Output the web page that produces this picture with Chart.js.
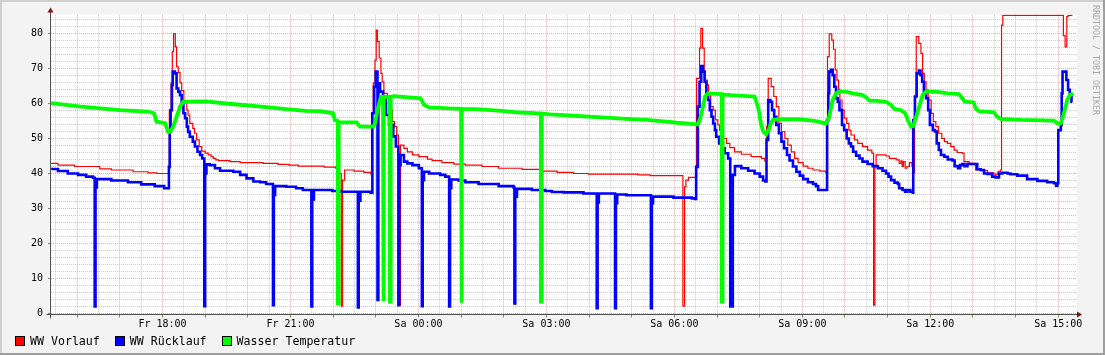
<!DOCTYPE html>
<html>
<head>
<meta charset="utf-8">
<title>WW Temperaturen</title>
<script src="https://cdn.jsdelivr.net/npm/chart.js"></script>
<style>
  html, body { margin: 0; padding: 0; background: #f3f3f3; }
  #wrap { position: relative; width: 1105px; height: 355px; }
  canvas { display: block; }
  #legend {
    position: absolute; left: 15px; top: 335px;
    display: flex; gap: 15px;
    font: 11.6px/12px 'DejaVu Sans Mono', monospace; color: #000;
  }
  .item { display: flex; align-items: center; gap: 5px; white-space: pre; }
  .box  { width: 8px; height: 8px; border: 1px solid #000; }
</style>
</head>
<body>
<div id="wrap">
  <canvas id="chart" width="1105" height="355"></canvas>
  <div id="legend"></div>
</div>
<script>
// ── Data ─────────────────────────────────────────────────────────────────────
// [hours since Fr 00:00 (24 = Sa 00:00), °C]
const vorlauf = [
  [15.39,42.9],[15.55,42.4],[15.94,42.0],[16.53,41.3],[16.80,41.0],[17.31,40.5],[17.66,40.2],[17.87,40.0],
  [18.16,58.1],[18.20,65.9],[18.23,74.8],[18.26,80.0],[18.30,76.2],[18.33,70.5],[18.37,68.8],[18.41,65.9],
  [18.45,63.7],[18.50,60.5],[18.57,58.1],[18.60,56.7],[18.64,54.3],[18.71,52.9],[18.75,51.5],[18.80,49.6],
  [18.86,47.7],[18.92,46.4],[19.00,45.8],[19.07,45.3],[19.14,44.8],[19.19,44.3],[19.25,43.9],[19.31,43.7],
  [19.58,43.4],[19.82,43.1],[20.36,42.9],[20.71,42.6],[20.97,42.4],[21.18,42.1],[21.79,41.8],[22.06,41.5],
  [22.11,40.0],[22.19,2.1],[22.22,38.1],[22.27,41.0],[22.49,40.7],[22.72,40.3],[22.88,39.9],[22.90,57.2],
  [22.94,65.8],[22.98,72.4],[23.01,81.0],[23.04,77.7],[23.08,73.0],[23.12,68.6],[23.15,66.2],[23.19,62.9],
  [23.27,62.0],[23.33,58.1],[23.39,54.8],[23.44,53.4],[23.49,51.0],[23.53,2.4],[23.58,48.1],[23.66,47.2],
  [23.74,46.2],[23.86,45.3],[24.01,44.8],[24.21,44.1],[24.32,43.7],[24.55,43.1],[24.83,42.7],[25.10,42.4],
  [25.49,42.0],[25.88,41.5],[26.43,41.2],[26.90,40.7],[27.25,40.3],[27.63,40.0],[27.98,39.8],[29.15,39.6],
  [29.43,39.4],[30.20,2.1],[30.24,36.2],[30.27,38.1],[30.33,38.9],[30.52,67.2],[30.59,75.8],[30.62,81.5],
  [30.66,75.8],[30.70,66.7],[30.77,65.3],[30.80,62.9],[30.85,59.1],[30.91,58.1],[30.96,55.3],[31.02,53.9],
  [31.06,52.4],[31.14,50.0],[31.22,48.6],[31.30,47.4],[31.41,46.2],[31.57,45.5],[31.80,44.8],[32.04,44.3],
  [32.12,43.6],[32.16,53.4],[32.20,67.2],[32.27,64.8],[32.33,62.0],[32.39,59.1],[32.45,54.3],[32.51,52.0],
  [32.59,50.0],[32.66,48.1],[32.74,46.2],[32.82,44.3],[32.90,43.1],[33.02,42.1],[33.13,41.5],[33.25,41.0],
  [33.41,40.7],[33.55,40.3],[33.59,73.4],[33.63,79.9],[33.69,78.1],[33.73,75.5],[33.77,69.6],[33.81,66.7],
  [33.85,63.9],[33.88,61.0],[33.93,58.1],[33.98,55.8],[34.04,54.3],[34.09,52.4],[34.14,51.0],[34.22,49.6],
  [34.30,48.6],[34.41,47.7],[34.53,46.7],[34.63,45.8],[34.67,2.4],[34.70,42.1],[34.73,45.3],[34.96,45.0],
  [35.04,44.3],[35.20,43.9],[35.27,42.9],[35.31,43.6],[35.34,42.0],[35.37,43.4],[35.41,41.5],[35.45,42.0],
  [35.51,43.1],[35.57,42.0],[35.61,40.2],[35.63,62.0],[35.67,79.1],[35.73,77.2],[35.78,74.3],[35.82,68.6],
  [35.86,66.2],[35.90,63.9],[35.95,61.0],[36.02,57.2],[36.07,54.8],[36.13,53.4],[36.19,51.5],[36.27,50.0],
  [36.33,49.1],[36.40,48.6],[36.48,47.7],[36.56,46.7],[36.63,46.0],[36.75,45.8],[36.79,43.4],[36.91,42.9],
  [37.06,41.0],[37.18,40.8],[37.34,40.2],[37.49,39.8],[37.59,40.6],[37.65,41.0],[37.67,82.4],[37.70,85.2],
  [39.12,79.4],[39.16,76.2],[39.20,84.8],[39.23,85.2],[39.33,85.2],
];

const ruecklauf = [
  [15.39,41.3],[15.55,40.7],[15.78,40.0],[16.02,39.6],[16.21,39.1],[16.37,38.8],[16.41,2.0],[16.43,36.0],
  [16.46,38.4],[16.80,38.0],[17.19,37.5],[17.50,36.9],[17.82,36.4],[18.04,35.8],[18.15,41.9],[18.17,52.0],
  [18.19,58.1],[18.22,65.3],[18.24,69.1],[18.29,68.6],[18.33,64.3],[18.37,63.4],[18.41,62.4],[18.45,60.5],
  [18.49,57.2],[18.53,55.8],[18.57,53.4],[18.60,51.9],[18.64,50.5],[18.71,49.1],[18.76,47.7],[18.82,46.2],
  [18.88,45.3],[18.93,44.3],[18.98,2.1],[19.00,40.0],[19.03,42.6],[19.11,42.4],[19.23,41.5],[19.35,40.8],
  [19.66,40.5],[19.82,39.6],[19.97,38.6],[20.13,37.7],[20.29,37.5],[20.43,37.0],[20.59,2.4],[20.61,33.9],
  [20.64,36.4],[20.90,36.2],[21.13,35.8],[21.29,35.3],[21.49,2.0],[21.51,32.6],[21.55,35.3],[21.98,35.0],
  [22.18,34.8],[22.58,1.7],[22.60,32.2],[22.64,34.8],[22.88,34.5],[22.92,57.2],[22.96,64.8],[23.00,69.1],
  [23.04,3.9],[23.06,65.8],[23.10,63.4],[23.17,62.0],[23.24,56.7],[23.31,53.9],[23.41,50.6],[23.47,47.7],
  [23.53,2.4],[23.55,42.4],[23.58,45.3],[23.66,43.4],[23.74,42.9],[23.86,42.4],[24.01,41.5],[24.08,2.1],
  [24.10,38.1],[24.13,40.5],[24.25,40.0],[24.51,39.6],[24.63,39.1],[24.72,2.0],[24.74,35.8],[24.77,38.3],
  [24.94,38.0],[25.10,37.5],[25.41,37.0],[25.88,36.4],[26.23,36.0],[26.25,2.9],[26.27,33.4],[26.31,35.6],
  [26.66,35.3],[26.97,35.0],[27.13,34.7],[27.41,34.6],[27.87,34.3],[28.18,1.5],[28.20,31.7],[28.23,34.3],
  [28.61,1.5],[28.63,31.5],[28.66,34.0],[28.88,33.8],[29.45,1.5],[29.47,31.5],[29.50,33.4],[29.98,33.1],
  [30.41,32.9],[30.49,32.7],[30.51,41.9],[30.55,59.1],[30.59,66.2],[30.63,70.7],[30.67,69.1],[30.71,66.2],
  [30.75,62.9],[30.79,61.0],[30.83,58.1],[30.87,56.2],[30.91,54.3],[30.95,52.4],[30.98,50.5],[31.05,48.6],
  [31.10,47.2],[31.18,45.8],[31.26,44.3],[31.31,2.0],[31.37,39.6],[31.42,42.1],[31.57,41.5],[31.73,40.8],
  [31.88,40.0],[32.00,39.1],[32.08,38.0],[32.13,37.7],[32.16,49.6],[32.20,61.0],[32.25,60.5],[32.29,58.1],
  [32.34,56.2],[32.39,53.9],[32.45,51.5],[32.51,49.1],[32.57,47.2],[32.64,45.3],[32.70,43.7],[32.78,42.0],
  [32.86,40.5],[32.94,39.4],[33.02,38.4],[33.13,37.5],[33.25,37.0],[33.32,36.4],[33.37,35.3],[33.58,55.3],
  [33.61,62.9],[33.63,69.1],[33.67,69.6],[33.71,68.1],[33.75,64.8],[33.79,61.5],[33.83,60.5],[33.87,58.1],
  [33.93,53.9],[33.98,52.4],[34.04,50.0],[34.09,48.6],[34.14,47.7],[34.19,46.2],[34.26,45.1],[34.34,44.3],
  [34.41,43.4],[34.53,42.7],[34.65,42.1],[34.77,41.5],[34.88,40.8],[34.96,40.0],[35.02,39.1],[35.08,38.1],
  [35.16,37.4],[35.24,37.0],[35.27,35.8],[35.35,35.3],[35.41,34.8],[35.46,35.3],[35.53,34.8],[35.59,34.5],
  [35.60,55.3],[35.64,62.0],[35.68,68.6],[35.73,69.4],[35.77,68.1],[35.81,66.2],[35.85,63.4],[35.90,61.5],
  [35.95,58.1],[35.99,53.9],[36.06,52.4],[36.11,52.0],[36.15,48.6],[36.20,46.7],[36.25,45.3],[36.33,44.8],
  [36.41,44.0],[36.52,43.7],[36.57,42.1],[36.65,41.5],[36.70,42.4],[36.75,42.7],[36.80,42.1],[36.87,42.7],
  [37.10,41.2],[37.18,41.0],[37.26,40.0],[37.34,39.9],[37.45,39.1],[37.53,38.9],[37.61,40.0],[37.69,40.2],
  [37.81,40.0],[37.88,39.8],[38.04,39.4],[38.27,38.4],[38.51,37.9],[38.74,37.5],[38.90,37.2],[38.95,36.5],
  [38.98,37.2],[39.00,52.4],[39.06,53.9],[39.08,62.9],[39.10,69.1],[39.19,66.7],[39.23,63.9],[39.27,62.0],
  [39.31,60.5],[39.33,60.5],
];

const wasser = [
  [15.39,60.1],[16.09,59.1],[17.00,58.1],[17.66,57.7],[17.80,57.2],[17.86,54.8],[18.06,54.4],[18.13,51.9],
  [18.18,51.9],[18.25,53.4],[18.33,56.2],[18.41,59.1],[18.49,60.5],[19.02,60.6],[19.49,60.0],[19.96,59.5],
  [20.50,58.9],[20.90,58.4],[21.36,57.9],[21.69,57.8],[22.00,57.2],[22.04,55.3],[22.11,55.0],[22.11,2.9],
  [22.13,2.9],[22.13,54.6],[22.55,54.6],[22.63,53.4],[22.94,53.4],[22.98,54.3],[23.04,58.1],[23.12,61.8],
  [23.17,61.9],[23.17,3.4],[23.19,3.4],[23.19,61.9],[23.33,61.9],[23.33,3.4],[23.35,3.4],[23.35,61.9],
  [23.43,62.1],[24.05,61.5],[24.13,59.6],[24.25,58.9],[24.71,58.6],[25.00,58.5],[25.00,3.1],[25.02,3.1],
  [25.02,58.4],[25.33,58.4],[25.96,57.9],[26.27,57.5],[26.82,57.2],[26.87,57.2],[26.87,3.4],[26.89,3.4],
  [26.89,57.1],[27.09,56.9],[27.41,56.7],[27.63,56.5],[28.10,56.2],[28.49,55.9],[28.88,55.6],[29.35,55.3],
  [29.82,54.8],[30.05,54.5],[30.55,54.0],[30.61,55.8],[30.67,59.1],[30.72,62.0],[30.79,62.9],[31.11,62.7],
  [31.11,3.4],[31.13,3.4],[31.13,62.6],[31.33,62.4],[31.61,62.2],[31.88,62.0],[31.92,60.5],[31.98,58.1],
  [32.02,54.8],[32.08,52.0],[32.15,51.2],[32.21,52.4],[32.26,54.3],[32.31,55.3],[32.43,55.5],[32.90,55.5],
  [33.25,55.1],[33.37,54.8],[33.55,54.3],[33.63,56.2],[33.71,61.0],[33.79,62.9],[33.87,63.4],[34.02,63.4],
  [34.18,62.9],[34.41,62.4],[34.49,61.8],[34.57,60.8],[34.69,60.8],[34.96,60.5],[35.08,59.6],[35.16,58.4],
  [35.31,58.1],[35.41,57.2],[35.49,54.8],[35.55,53.4],[35.60,53.6],[35.66,55.8],[35.74,59.1],[35.82,62.4],
  [35.90,63.4],[36.13,63.4],[36.41,62.9],[36.67,62.7],[36.75,61.5],[36.81,60.5],[37.02,60.3],[37.06,58.6],
  [37.14,57.8],[37.49,57.5],[37.57,56.2],[37.65,55.6],[38.12,55.3],[38.90,55.1],[38.98,54.3],[39.06,54.3],
  [39.11,56.2],[39.16,58.6],[39.21,61.0],[39.27,62.4],[39.35,62.9],
];

const xTickHours  = [18, 21, 24, 27, 30, 33, 36, 39];
const xTickLabels = ["Fr 18:00", "Fr 21:00", "Sa 00:00", "Sa 03:00", "Sa 06:00", "Sa 09:00", "Sa 12:00", "Sa 15:00"];

// ── Config ───────────────────────────────────────────────────────────────────
const T_MIN = 15.386;
const T_MAX = 39.439;
const Y_MAX = 85.4;

const MONO  = "'DejaVu Sans Mono', monospace";
const GRID  = "#cbcbcb";
const MGRID = "#f0a8a8";
const TICK  = "#808080";

// grid every half hour / every 2 °C, majors every hour / 10 °C
const halfHours = [];
for (let h = Math.ceil(T_MIN * 2) / 2; h <= T_MAX; h += 0.5) halfHours.push(h);
const yGrid = [];
for (let v = 0; v <= Y_MAX; v += 2) yGrid.push(v);

const isHour  = v => v % 1 === 0;
const isMajor = v => v % 10 === 0;
const toPoints = rows => rows.map(([x, y]) => ({ x, y }));

// ── RRDtool-style frame, axes and watermark ──────────────────────────────────
const rrdChrome = {
  id: "rrdChrome",
  beforeDraw(chart) {
    const { ctx, chartArea: a } = chart;
    ctx.save();
    ctx.fillStyle = "#f3f3f3";
    ctx.fillRect(0, 0, chart.width, chart.height);
    ctx.fillStyle = "#ffffff";
    ctx.fillRect(a.left, a.top, a.right - a.left, a.bottom - a.top);
    ctx.restore();
  },
  afterDraw(chart) {
    const { ctx, chartArea: a, width, height } = chart;
    const ax = Math.round(a.left) - 0.5;
    const ay = Math.round(a.bottom) + 0.5;
    ctx.save();

    ctx.strokeStyle = "#505050";
    ctx.lineWidth = 1;
    ctx.beginPath();
    ctx.moveTo(ax, ay + 4);  ctx.lineTo(ax, a.top - 3);
    ctx.moveTo(ax - 4, ay);  ctx.lineTo(a.right + 1, ay);
    ctx.stroke();

    ctx.fillStyle = "#801010";
    ctx.beginPath();
    ctx.moveTo(ax, a.top - 7); ctx.lineTo(ax - 3, a.top - 2); ctx.lineTo(ax + 3, a.top - 2);
    ctx.closePath(); ctx.fill();
    ctx.beginPath();
    ctx.moveTo(a.right + 5, ay); ctx.lineTo(a.right, ay - 3); ctx.lineTo(a.right, ay + 3);
    ctx.closePath(); ctx.fill();

    ctx.fillStyle = "#cfcfcf";
    ctx.fillRect(0, 0, width, 2);
    ctx.fillRect(0, 0, 2, height);
    ctx.fillStyle = "#9f9f9f";
    ctx.fillRect(0, height - 2, width, 2);
    ctx.fillRect(width - 2, 0, 2, height);

    ctx.translate(width - 10, 5);
    ctx.rotate(Math.PI / 2);
    ctx.font = `8.3px ${MONO}`;
    ctx.fillStyle = "#aaaaaa";
    ctx.textBaseline = "middle";
    ctx.fillText("RRDTOOL / TOBI OETIKER", 0, 0);
    ctx.restore();
  },
};

// ── Chart ────────────────────────────────────────────────────────────────────
Chart.defaults.font.family = MONO;

const chart = new Chart(document.getElementById("chart"), {
  type: "line",
  data: {
    datasets: [
      { label: "WW Vorlauf",        data: toPoints(vorlauf),   borderColor: "#ff0000", borderWidth: 1.2, stepped: true, order: 3 },
      { label: "WW Rücklauf",       data: toPoints(ruecklauf), borderColor: "#0000ff", borderWidth: 2.6, stepped: true, order: 2 },
      { label: "Wasser Temperatur", data: toPoints(wasser),    borderColor: "#00ff00", borderWidth: 3.8, order: 1 },
    ],
  },
  options: {
    responsive: false,
    animation: false,
    devicePixelRatio: 1,
    events: [],
    layout: { padding: { left: 0, right: 28, top: 14.6, bottom: 21.5 } },
    elements: {
      point: { radius: 0 },
      line: { tension: 0, fill: false, borderJoinStyle: "miter", borderCapStyle: "butt" },
    },
    plugins: {
      tooltip: { enabled: false },
      legend: { display: false },
    },
    scales: {
      x: {
        type: "linear",
        position: "bottom",
        weight: 1,
        min: T_MIN,
        max: T_MAX,
        afterBuildTicks: s => { s.ticks = xTickHours.map(value => ({ value })); },
        afterFit: s => { s.height = 20; },
        grid: { display: false, drawTicks: false },
        border: { display: false },
        ticks: {
          maxRotation: 0,
          autoSkip: false,
          padding: 5,
          color: "#000",
          font: { family: MONO, size: 10 },
          callback: v => xTickLabels[xTickHours.indexOf(v)],
        },
      },
      xg: {
        type: "linear",
        position: "bottom",
        weight: 0,
        min: T_MIN,
        max: T_MAX,
        afterBuildTicks: s => { s.ticks = halfHours.map(value => ({ value })); },
        afterFit: s => { s.height = 0; },
        ticks: { display: false },
        border: { display: false, dash: [1, 1] },
        grid: {
          color: c => (c.tick && isHour(c.tick.value) ? MGRID : GRID),
          tickLength: 4,
          tickColor: c => (c.tick && isHour(c.tick.value) ? TICK : "rgba(0,0,0,0)"),
        },
      },
      y: {
        type: "linear",
        position: "left",
        min: 0,
        max: Y_MAX,
        afterBuildTicks: s => { s.ticks = yGrid.map(value => ({ value })); },
        afterFit: s => { s.width = 51; },
        border: { display: false, dash: [1, 1] },
        grid: {
          color: c => (c.tick && isMajor(c.tick.value) ? MGRID : GRID),
          tickLength: 3,
          tickColor: c => (c.tick && isMajor(c.tick.value) ? TICK : "rgba(0,0,0,0)"),
        },
        ticks: {
          autoSkip: false,
          padding: 5,
          color: "#000",
          font: { family: MONO, size: 10 },
          callback: v => (isMajor(v) ? String(v) : ""),
        },
      },
    },
  },
  plugins: [rrdChrome],
});

// ── Legend (HTML, RRDtool style) ─────────────────────────────────────────────
const legend = document.getElementById("legend");
for (const ds of chart.data.datasets) {
  const item = document.createElement("span");
  item.className = "item";
  item.innerHTML = `<span class="box" style="background:${ds.borderColor}"></span>${ds.label}`;
  legend.appendChild(item);
}
</script>
</body>
</html>
